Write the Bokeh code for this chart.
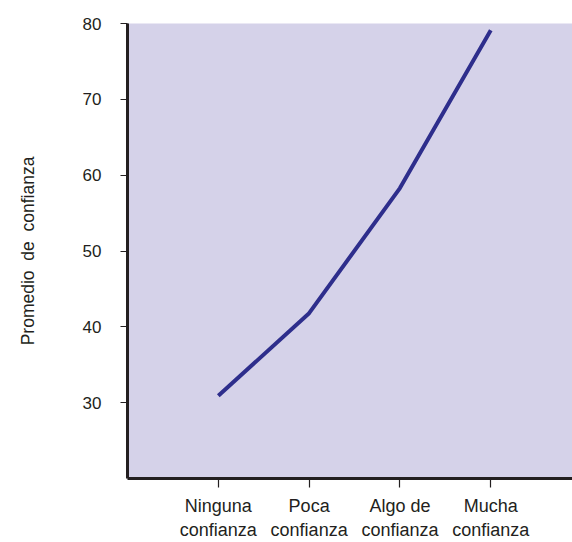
from bokeh.plotting import figure
from bokeh.models import Range1d, FixedTicker
from bokeh.embed import file_html
from bokeh.resources import INLINE

categories = ["Ninguna\nconfianza", "Poca\nconfianza", "Algo de\nconfianza", "Mucha\nconfianza"]
values = [30.9, 41.8, 58.3, 79.1]
y_ticks = [30, 40, 50, 60, 70, 80]

xs = list(range(1, len(categories) + 1))

p = figure(width=572, height=542, output_backend="svg", toolbar_location=None,
           x_range=Range1d(0, 4.9), y_range=Range1d(20, 80),
           min_border_left=127, min_border_top=23, min_border_bottom=64, min_border_right=0)
p.background_fill_color = "#D5D2E9"
p.border_fill_color = "white"
p.outline_line_color = None
p.grid.visible = False

p.line(xs, values, line_color="#2E2E8C", line_width=4)

font = "Liberation Sans"
p.yaxis.ticker = FixedTicker(ticks=y_ticks)
p.xaxis.ticker = FixedTicker(ticks=xs)
p.xaxis.major_label_overrides = {x: c for x, c in zip(xs, categories)}
for ax in (p.xaxis, p.yaxis):
    ax.axis_line_width = 3
    ax.axis_line_color = "#231F20"
    ax.major_tick_line_color = "#231F20"
    ax.major_tick_line_width = 1.2
    ax.major_tick_in = 0
    ax.minor_tick_line_color = None
    ax.major_label_text_font = font
    ax.major_label_text_color = "#231F20"
p.xaxis.major_label_text_font_size = "18px"
p.yaxis.major_label_text_font_size = "17px"
p.xaxis.major_tick_out = 9
p.yaxis.major_tick_out = 7
p.yaxis.major_label_standoff = 19
p.xaxis.major_label_standoff = 8
p.yaxis.axis_label = "Promedio\u00a0 de\u00a0 confianza"
p.yaxis.axis_label_text_font = font
p.yaxis.axis_label_text_font_style = "normal"
p.yaxis.axis_label_text_font_size = "17.5px"
p.yaxis.axis_label_text_color = "#231F20"
p.yaxis.axis_label_standoff = 42

open("out.html", "w").write(file_html(p, INLINE))
